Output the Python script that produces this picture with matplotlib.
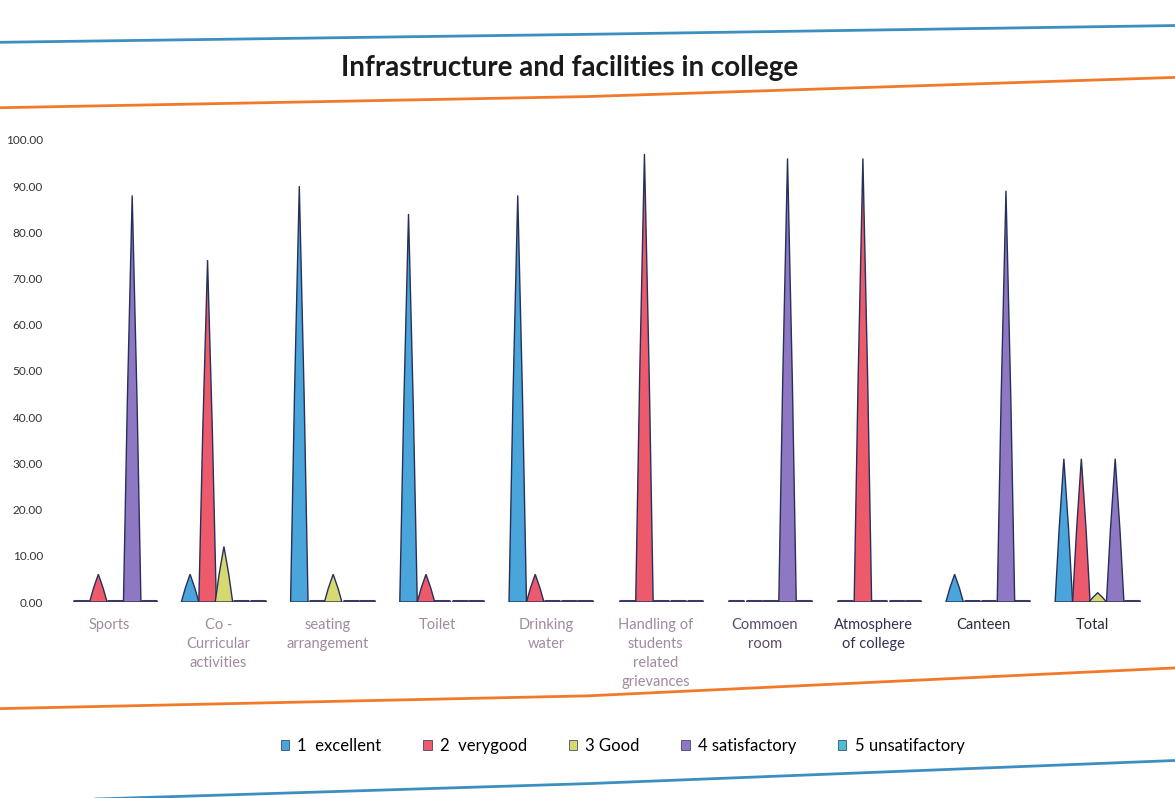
import matplotlib.pyplot as plt
from matplotlib.lines import Line2D
from matplotlib.patches import Patch

plt.rcParams['font.family'] = ['Lato', 'DejaVu Sans']

categories = ["Sports", "Co -\nCurricular\nactivities", "seating\narrangement", "Toilet",
              "Drinking\nwater", "Handling of\nstudents\nrelated\ngrievances", "Commoen\nroom",
              "Atmosphere\nof college", "Canteen", "Total"]
label_colors = ["#a08aa0"] * 6 + ["#5a4a6a", "#3a3050", "#2a2a3a", "#2a2a3a"]

series_names = ["1  excellent", "2  verygood", "3 Good", "4 satisfactory", "5 unsatifactory"]
excellent      = [0, 6, 90, 84, 88, 0, 0, 0, 6, 31]
verygood       = [6, 74, 0, 6, 6, 97, 0, 96, 0, 31]
good           = [0, 12, 6, 0, 0, 0, 0, 0, 0, 2]
satisfactory   = [88, 0, 0, 0, 0, 0, 96, 0, 89, 31]
unsatisfactory = [0, 0, 0, 0, 0, 0, 0, 0, 0, 0]
series = [excellent, verygood, good, satisfactory, unsatisfactory]
colors = ["#4aa6da", "#ec5a6c", "#d6d870", "#8e78c4", "#4cbfd0"]

yticks = list(range(0, 101, 10))

fig = plt.figure(figsize=(11.75, 7.98), dpi=100)
ax = fig.add_axes([0.04, 0.2456, 0.95, 0.579])

offsets = [-0.31, -0.15, 0.0, 0.16, 0.31]
hw = 0.08
for s, vals in enumerate(series):
    for i, v in enumerate(vals):
        x = i + offsets[s]
        if v > 0:
            # cone-like spike
            ax.fill([x - hw, x - hw * 0.55, x, x + hw * 0.55, x + hw],
                    [0, v * 0.5, v, v * 0.5, 0], color=colors[s],
                    edgecolor="#27305a", linewidth=1.0, zorder=3)
        else:
            ax.plot([x - hw * 0.8, x + hw * 0.8], [0.3, 0.3], color="#3a3a66", lw=2.2,
                    solid_capstyle="round", zorder=2)

ax.set_xlim(-0.62, 9.6)
ax.set_ylim(0, 100)
ax.set_yticks(yticks)
ax.set_yticklabels(["%.2f" % t for t in yticks], fontsize=8.5, color="#333333")
ax.tick_params(axis="y", length=0, pad=3)
ax.set_xticks([])
for sp in ax.spines.values():
    sp.set_visible(False)

for i, (lab, c) in enumerate(zip(categories, label_colors)):
    ax.text(i - 0.05, -3.5, lab, ha="center", va="top", fontsize=10.5,
            color=c, linespacing=1.45)

fig.text(0.485, 0.915, "Infrastructure and facilities in college", ha="center",
         va="center", fontsize=20, fontweight="bold", color="#1a1a1a")

# page lines
fig.add_artist(Line2D([0, 0.5, 1], [0.947, 0.957, 0.968], color="#3d8fc0", lw=2))
fig.add_artist(Line2D([0, 0.5, 1], [0.865, 0.879, 0.903], color="#f07a2a", lw=2))
fig.add_artist(Line2D([0, 0.5, 1], [0.112, 0.128, 0.163], color="#f07a2a", lw=2))
fig.add_artist(Line2D([0, 0.5, 1], [-0.005, 0.018, 0.047], color="#3d8fc0", lw=2))

handles = [Patch(facecolor=c, edgecolor="#27305a", lw=0.5) for c in colors]
fig.legend(handles, series_names, loc="center", bbox_to_anchor=(0.53, 0.065),
           ncol=5, frameon=False, fontsize=12, handlelength=0.5, handleheight=0.5,
           columnspacing=2.5, handletextpad=0.5)

fig.savefig("out.png", dpi=100, facecolor="white")
